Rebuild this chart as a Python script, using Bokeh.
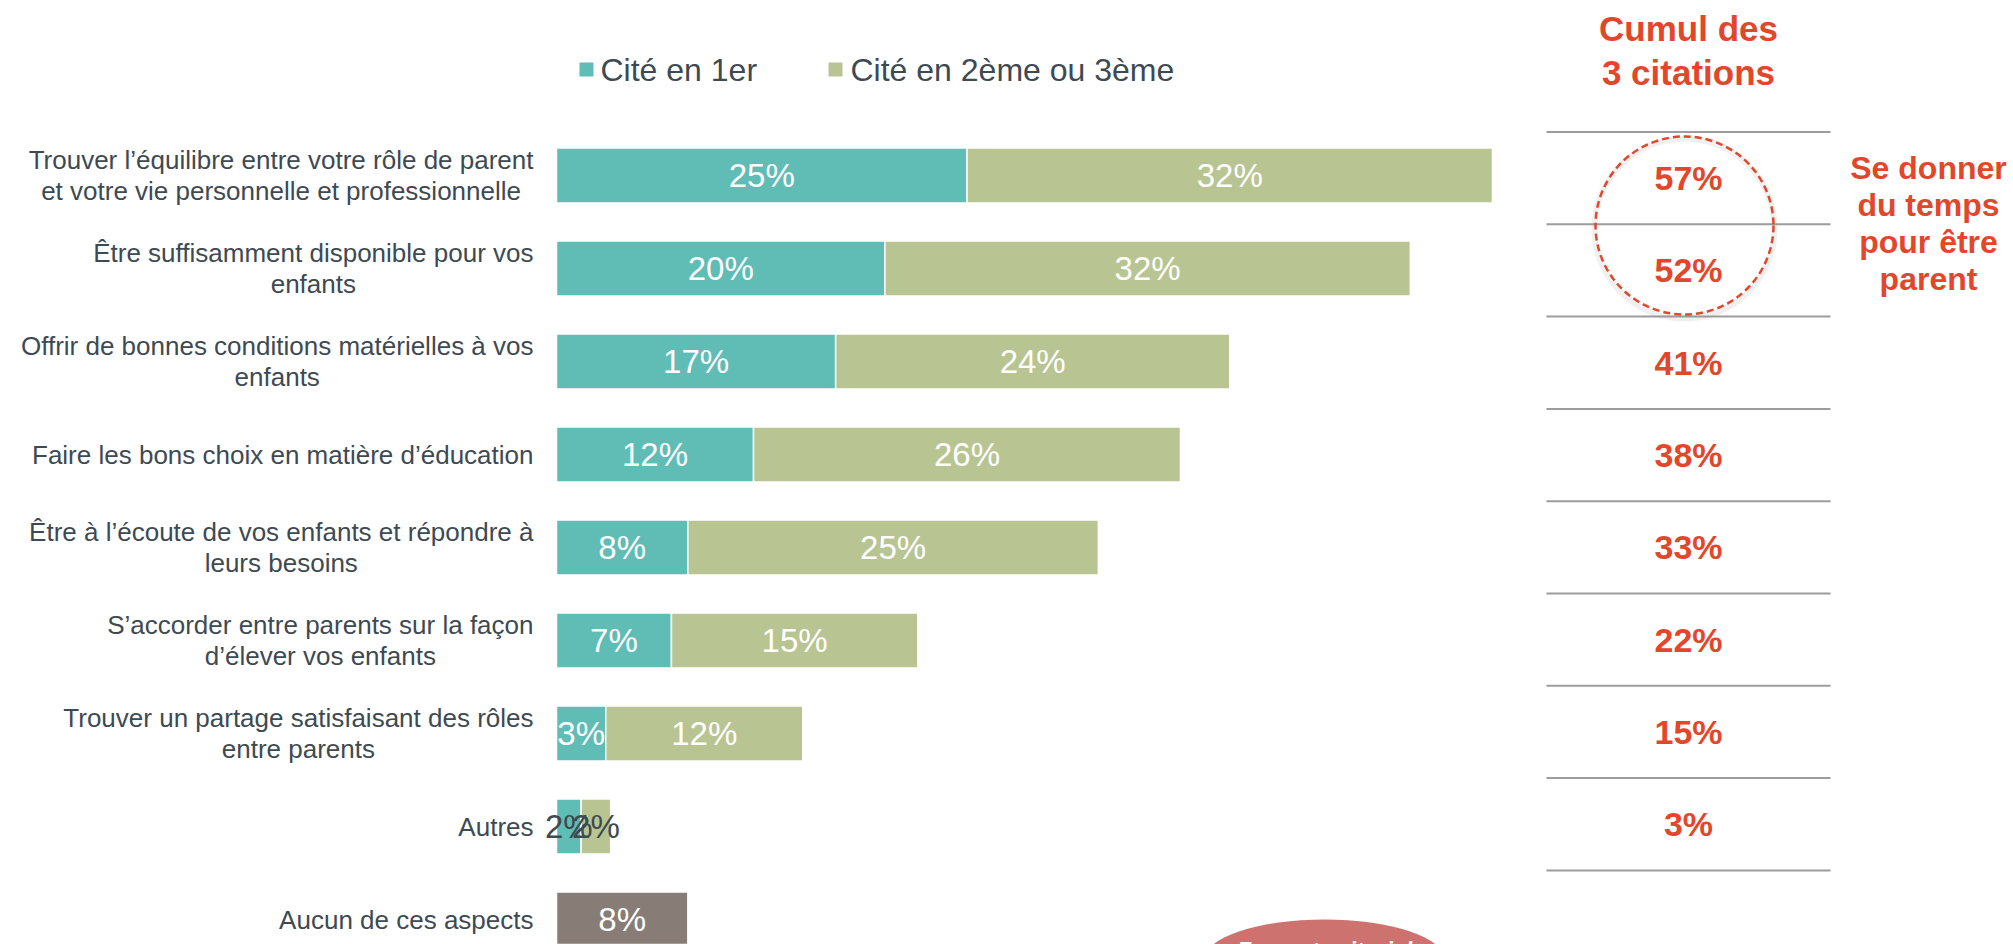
from bokeh.plotting import figure
from bokeh.models import Range1d, ColumnDataSource
from bokeh.core.properties import value
from bokeh.embed import file_html
from bokeh.resources import INLINE

# ---------------- data ----------------
categories = [
    "Trouver l\u2019\u00e9quilibre entre votre r\u00f4le de parent\net votre vie personnelle et professionnelle",
    "\u00catre suffisamment disponible pour vos\nenfants",
    "Offrir de bonnes conditions mat\u00e9rielles \u00e0 vos\nenfants",
    "Faire les bons choix en mati\u00e8re d\u2019\u00e9ducation",
    "\u00catre \u00e0 l\u2019\u00e9coute de vos enfants et r\u00e9pondre \u00e0\nleurs besoins",
    "S\u2019accorder entre parents sur la fa\u00e7on\nd\u2019\u00e9lever vos enfants",
    "Trouver un partage satisfaisant des r\u00f4les\nentre parents",
    "Autres",
    "Aucun de ces aspects",
]
cite_1er = [25, 20, 17, 12, 8, 7, 3, 1.5]
cite_2e_3e = [32, 32, 24, 26, 25, 15, 12, 1.8]
aucun = [8]
cumul = [57, 52, 41, 38, 33, 22, 15, 3]
legend_labels = ["Cit\u00e9 en 1er", "Cit\u00e9 en 2\u00e8me ou 3\u00e8me"]
header = "Cumul des\n3 citations"
note = "Se donner\ndu temps\npour \u00eatre\nparent"
badge = "Focus territorial"

# ---------------- styles ----------------
TEAL = "#5FBDB5"
GREEN = "#B8C592"
GREY = "#877D76"
RED = "#E2472B"
DARK = "#3E4A52"
RULE = "#9C9C9C"
BADGE = "#CE7270"
FONT = value("Liberation Sans")

W, H = 2013, 944
X0 = 556.0          # px of 0 %
PX_PER_PCT = 16.42
ROW0 = 175.0        # px of first row centre
ROW_STEP = 93.0


def dx(px):
    return (px - X0) / PX_PER_PCT


def dy(px):
    return (px - ROW0) / ROW_STEP


p = figure(width=W, height=H,
           x_range=Range1d(dx(0), dx(W)),
           y_range=Range1d(dy(H), dy(0)),
           output_backend="svg", toolbar_location=None,
           min_border=0, outline_line_color=None)
p.axis.visible = False
p.grid.visible = False
p.background_fill_color = "white"
p.border_fill_color = "white"

n = len(cite_1er)
rows = list(range(n))
ends = [a + b for a, b in zip(cite_1er, cite_2e_3e)]
src = ColumnDataSource(dict(y=rows, a=cite_1er, end=ends))

BAR_H = 0.59
p.hbar(y="y", left=0, right="a", height=BAR_H, fill_color=TEAL,
       line_color="white", line_width=1.5, source=src)
p.hbar(y="y", left="a", right="end", height=BAR_H, fill_color=GREEN,
       line_color="white", line_width=1.5, source=src)
p.hbar(y=[n], left=0, right=aucun, height=BAR_H, fill_color=GREY,
       line_color="white", line_width=1.5)

# bar value labels
lx, ly, lt, lc = [], [], [], []
for i in range(n):
    for left, v in ((0, cite_1er[i]), (cite_1er[i], cite_2e_3e[i])):
        lx.append(left + v / 2)
        ly.append(i)
        lt.append(f"{v:.0f}%")
        lc.append(DARK if v < 2.5 else "white")
lx.append(aucun[0] / 2)
ly.append(n)
lt.append(f"{aucun[0]:.0f}%")
lc.append("white")
p.text(x=lx, y=ly, text=lt, text_color=lc, text_font=FONT,
       text_font_size="33px", text_align="center", text_baseline="middle")

# category labels
p.text(x=[dx(533)] * len(categories), y=list(range(len(categories))),
       text=categories, anchor="center_right", text_align="center",
       text_baseline="middle", text_font=FONT, text_font_size="26px",
       text_line_height=1.03, text_color=DARK)

# legend
p.scatter(x=[dx(586), dx(835)], y=[dy(69)] * 2, marker="square", size=14,
          fill_color=[TEAL, GREEN], line_color=None)
p.text(x=[dx(600), dx(850)], y=[dy(69)] * 2, text=legend_labels,
       text_font=FONT, text_font_size="32px", text_color=DARK,
       text_align="left", text_baseline="middle")

# right-hand cumulative table
rule_y = [dy(131.5 + 92.3 * k) for k in range(len(cumul) + 1)]
p.segment(x0=[dx(1546)] * len(rule_y), x1=[dx(1830)] * len(rule_y),
          y0=rule_y, y1=rule_y, line_color=RULE, line_width=2)
val_y = [(rule_y[k] + rule_y[k + 1]) / 2 for k in range(len(cumul))]
p.text(x=[dx(1688)] * len(cumul), y=val_y, text=[f"{v}%" for v in cumul],
       text_font=FONT, text_font_style="bold", text_font_size="34px",
       text_color=RED, text_align="center", text_baseline="middle")

p.text(x=[dx(1688)], y=[dy(50)], text=[header], text_font=FONT,
       text_font_style="bold", text_font_size="35px", text_color=RED,
       text_align="center", text_baseline="middle", text_line_height=1.15)

# dashed highlight circle with a soft shadow
p.scatter(x=[dx(1684)], y=[dy(228)], marker="circle", size=180,
          fill_color=None, line_color="#808080", line_alpha=0.12, line_width=6)
p.scatter(x=[dx(1684)], y=[dy(225)], marker="circle", size=178,
          fill_color=None, line_color=RED, line_width=2.5, line_dash="7 4")

p.text(x=[dx(1928)], y=[dy(223)], text=[note], text_font=FONT,
       text_font_style="bold", text_font_size="32px", text_color=RED,
       text_align="center", text_baseline="middle", text_line_height=1.03)

# badge at the bottom (clipped, as in the source)
p.ellipse(x=[dx(1324)], y=[dy(959)], width=240 / PX_PER_PCT,
          height=80 / ROW_STEP, fill_color=BADGE, line_color=None)
p.text(x=[dx(1324)], y=[dy(950)], text=[badge], text_font=FONT,
       text_font_style="bold italic", text_font_size="23px",
       text_color="white", text_align="center", text_baseline="alphabetic")

open("out.html", "w").write(file_html(p, INLINE))
